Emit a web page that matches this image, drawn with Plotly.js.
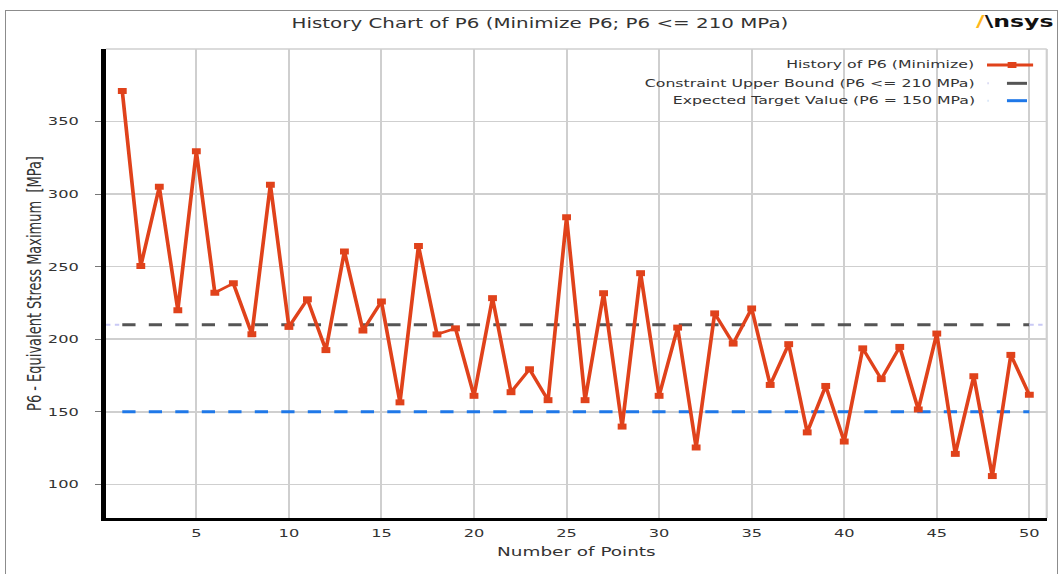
<!DOCTYPE html>
<html>
<head>
<meta charset="utf-8">
<script src="https://cdn.plot.ly/plotly-3.0.1.min.js"></script>
<style>
  html, body { margin:0; padding:0; overflow:hidden; background:#ffffff; width:1060px; height:574px; }
  #wrap { position:absolute; left:0; top:0; width:720px; height:574px; transform:scale(1.472222,1); transform-origin:0 0; }
  #frame { position:absolute; left:5px; top:10px; width:1051px; height:620px; border:1px solid #8c8c8c; pointer-events:none; }
</style>
</head>
<body>
<div id="wrap"><div id="chart" style="width:720px;height:574px;"></div></div>
<div id="frame"></div>
<script>
// ---- data ----
const points = [1,2,3,4,5,6,7,8,9,10,11,12,13,14,15,16,17,18,19,20,21,22,23,24,25,
                26,27,28,29,30,31,32,33,34,35,36,37,38,39,40,41,42,43,44,45,46,47,48,49,50];
const p6History = [371,250.5,305,220,329.5,232,238.5,203.5,306.5,208.5,
                   227.5,192.5,260.5,206,226,156.5,264.3,203.3,207.5,161,
                   228.3,163.5,179.3,158,284,158,231.7,139.8,245.5,161,
                   208,125.4,217.8,197,221.2,168.5,196.6,135.8,167.8,129.5,
                   193.7,172.5,194.7,151.6,203.9,121,174.5,105.7,189.2,161.7];
const constraintUpper = 210;
const expectedTarget = 150;
const xTicks = [5,10,15,20,25,30,35,40,45,50];
const yTicks = [100,150,200,250,300,350];
const legendNames = ['History of P6 (Minimize)',
                     'Constraint Upper Bound (P6 &lt;= 210 MPa)',
                     'Expected Target Value (P6 = 150 MPa)'];

const RED = '#e0421b', GRAY = '#555555', BLUE = '#1f78e8', TXT = '#333333';
const xRange = [0.12, 50.94];
const yRange = [76.8, 400];
const first = points[0], last = points[points.length-1];

const traces = [
  { x:[first,last], y:[constraintUpper,constraintUpper], mode:'lines', name:legendNames[1],
    line:{color:GRAY, width:3, dash:'9px,9px'}, hoverinfo:'skip' },
  { x:[first,last], y:[expectedTarget,expectedTarget], mode:'lines', name:legendNames[2],
    line:{color:BLUE, width:3, dash:'9px,9px'}, hoverinfo:'skip' },
  { x:points, y:p6History, mode:'lines+markers', name:legendNames[0],
    line:{color:RED, width:2.5}, marker:{symbol:'square', size:6, color:RED} }
];

const rowY = [0.9659, 0.9268, 0.8898];
const font = 'DejaVu Sans, Verdana, sans-serif';
const annotations = legendNames.map((t,i)=>({
  xref:'paper', yref:'paper', x:0.9265, y:rowY[i], xanchor:'right', yanchor:'middle',
  text:t, showarrow:false, font:{family:font, size:10.7, color:TXT}
}));
annotations.push({
  xref:'paper', yref:'paper', x:0.9225, y:1.0597, xanchor:'left', yanchor:'middle',
  text:'<b><span style="color:#ffb71b">/</span>\\nsys</b>', showarrow:false,
  font:{family:font, size:16, color:'#111111'}
});

const shapes = [
  // plot frame top & right
  {type:'line', xref:'paper', yref:'paper', x0:0, x1:1, y0:1, y1:1, line:{color:'#cfcfcf', width:1.5}},
  {type:'line', xref:'paper', yref:'paper', x0:1, x1:1, y0:0, y1:1, line:{color:'#cfcfcf', width:1.5}},
  // faint extensions of the constraint line
  {type:'line', xref:'x', yref:'y', x0:xRange[0], x1:first, y0:constraintUpper, y1:constraintUpper, line:{color:'#c9c9f5', width:2, dash:'dot'}},
  {type:'line', xref:'x', yref:'y', x0:last, x1:xRange[1], y0:constraintUpper, y1:constraintUpper, line:{color:'#c9c9f5', width:2, dash:'dot'}},
  // legend symbols
  {type:'line', xref:'paper', yref:'paper', x0:0.9365, x1:0.9855, y0:rowY[0], y1:rowY[0], line:{color:RED, width:3}},
  {type:'rect', xref:'paper', yref:'paper', xsizemode:'pixel', ysizemode:'pixel',
   xanchor:0.9631, yanchor:rowY[0], x0:-3, x1:3, y0:-3, y1:3, fillcolor:RED, line:{width:0}},
  {type:'line', xref:'paper', yref:'paper', x0:0.9368, x1:0.9385, y0:rowY[1], y1:rowY[1], line:{color:'#d8d8f2', width:2}},
  {type:'line', xref:'paper', yref:'paper', x0:0.9577, x1:0.979, y0:rowY[1], y1:rowY[1], line:{color:GRAY, width:3}},
  {type:'line', xref:'paper', yref:'paper', x0:0.9368, x1:0.9385, y0:rowY[2], y1:rowY[2], line:{color:'#d8e6f8', width:2}},
  {type:'line', xref:'paper', yref:'paper', x0:0.9577, x1:0.979, y0:rowY[2], y1:rowY[2], line:{color:BLUE, width:3}}
];

const layout = {
  width:720, height:574,
  margin:{l:72, r:9, t:49, b:56},
  paper_bgcolor:'#ffffff', plot_bgcolor:'#ffffff',
  showlegend:false,
  font:{family:font, color:TXT},
  title:{text:'History Chart of P6 (Minimize P6; P6 &lt;= 210 MPa)', xref:'container', yref:'container',
         x:0.5094, xanchor:'center', y:0.9600, yanchor:'middle', font:{family:font, size:13.5, color:TXT}},
  xaxis:{range:xRange, tickvals:xTicks, ticktext:xTicks.map(String), showgrid:true, gridcolor:'#cfcfcf', gridwidth:1.3,
         zeroline:false, showline:true, linecolor:'#000000', linewidth:3.3, ticks:'', ticklabelstandoff:3,
         tickfont:{family:font, size:11, color:TXT},
         title:{text:'Number of Points', font:{family:font, size:12.5, color:TXT}, standoff:8}},
  yaxis:{range:yRange, tickvals:yTicks, ticktext:yTicks.map(String), showgrid:true, gridcolor:'#cfcfcf', gridwidth:1.5,
         zeroline:false, showline:true, linecolor:'#000000', linewidth:3.3, ticks:'outside', ticklen:4,
         ticklabelstandoff:9,
         tickcolor:'#777777', tickwidth:1, tickfont:{family:font, size:11, color:TXT},
         title:{text:'P6 - Equivalent Stress Maximum&nbsp; [MPa]', font:{family:font, size:13, color:TXT}, standoff:2}},
  annotations:annotations,
  shapes:shapes
};

Plotly.newPlot('chart', traces, layout, {displayModeBar:false, staticPlot:true});
</script>
</body>
</html>
